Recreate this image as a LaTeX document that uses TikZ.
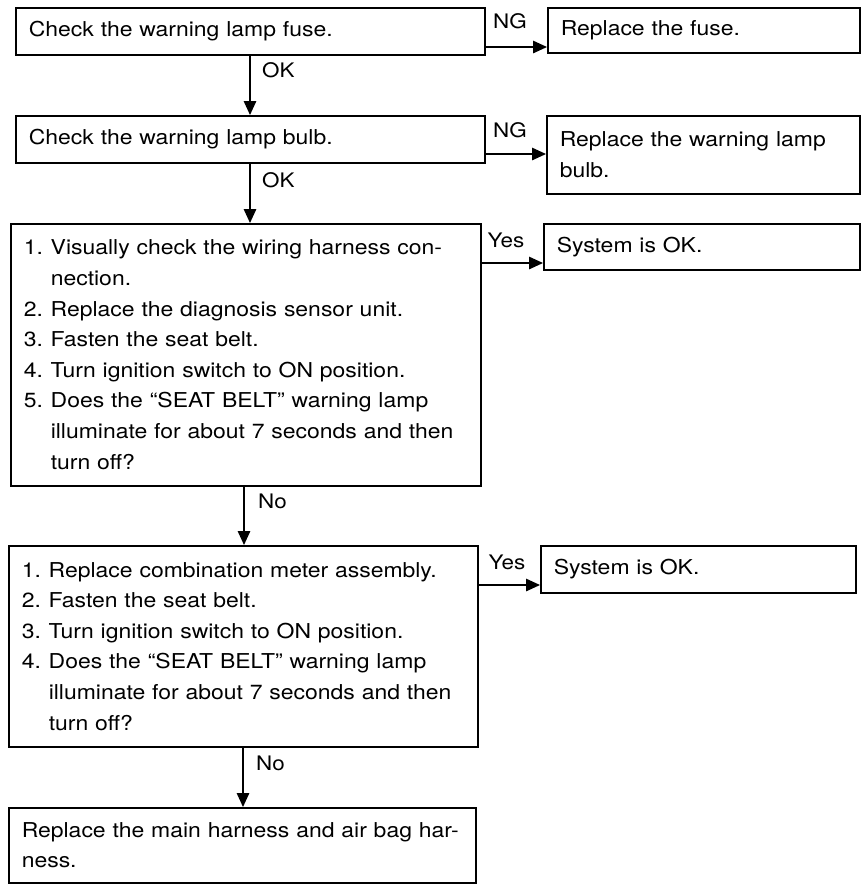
\documentclass[tikz,border=0pt]{standalone}
\usepackage{fontspec}
\setmainfont{TeX Gyre Heros}[FakeStretch=1.12]
\usetikzlibrary{arrows.meta}
\begin{document}
\begin{tikzpicture}[x=1pt,y=-1pt,
  box/.style={draw, line width=1.5pt, anchor=north west, inner xsep=13pt, inner ysep=0pt,
    align=left, font=\fontsize{20.5}{30.6}\selectfont},
  lbl/.style={font=\fontsize{20}{24}\selectfont, inner sep=0pt},
  arr/.style={line width=1.4pt, -{Triangle[length=14pt,width=12.5pt]}}]
\useasboundingbox (0,0) rectangle (862,884);

% left column
\node[box, minimum width=469pt, minimum height=47pt, text width=443pt] (B1) at (15,7)
  {Check the warning lamp fuse.};
\node[box, minimum width=469pt, minimum height=47pt, text width=443pt] (B2) at (15,115)
  {Check the warning lamp bulb.};
\node[box, minimum width=470pt, minimum height=262pt, text width=444pt] (B3) at (10,223)
  {\makebox[27pt][l]{1.}Visually check the wiring harness con-\\
   \hspace*{27pt}nection.\\
   \makebox[27pt][l]{2.}Replace the diagnosis sensor unit.\\
   \makebox[27pt][l]{3.}Fasten the seat belt.\\
   \makebox[27pt][l]{4.}Turn ignition switch to ON position.\\
   \makebox[27pt][l]{5.}Does the ``SEAT BELT'' warning lamp\\
   \hspace*{27pt}illuminate for about 7 seconds and then\\
   \hspace*{27pt}turn off?};
\node[box, minimum width=469pt, minimum height=201pt, text width=443pt] (B4) at (8,545)
  {\makebox[27pt][l]{1.}Replace combination meter assembly.\\
   \makebox[27pt][l]{2.}Fasten the seat belt.\\
   \makebox[27pt][l]{3.}Turn ignition switch to ON position.\\
   \makebox[27pt][l]{4.}Does the ``SEAT BELT'' warning lamp\\
   \hspace*{27pt}illuminate for about 7 seconds and then\\
   \hspace*{27pt}turn off?};
\node[box, minimum width=467pt, minimum height=75pt, text width=441pt] (B5) at (8,807)
  {Replace the main harness and air bag har-\\ness.};

% right column
\node[box, minimum width=312pt, minimum height=45pt, text width=286pt] (R1) at (547,7)
  {Replace the fuse.};
\node[box, minimum width=313pt, minimum height=78pt, text width=287pt] (R2) at (546,115)
  {Replace the warning lamp\\bulb.};
\node[box, minimum width=316pt, minimum height=46pt, text width=290pt] (R3) at (543,223)
  {System is OK.};
\node[box, minimum width=315pt, minimum height=47pt, text width=289pt] (R4) at (540,545)
  {System is OK.};

% helper coordinates
\coordinate (v1) at (250,0);
\coordinate (v3) at (244,0);
\coordinate (v4) at (243,0);
\coordinate (h1) at (0,47);
\coordinate (h2) at (0,154);
\coordinate (h3) at (0,263);
\coordinate (h4) at (0,585);

% connectors
\draw[arr] (B1.south -| v1) -- (B2.north -| v1);
\draw[arr] (B2.south -| v1) -- (B3.north -| v1);
\draw[arr] (B3.south -| v3) -- (B4.north -| v3);
\draw[arr] (B4.south -| v4) -- (B5.north -| v4);
\draw[arr] (B1.east |- h1) -- (R1.west |- h1);
\draw[arr] (B2.east |- h2) -- (R2.west |- h2);
\draw[arr] (B3.east |- h3) -- (R3.west |- h3);
\draw[arr] (B4.east |- h4) -- (R4.west |- h4);

% labels
\node[lbl, anchor=west] (ok1) at (262,70) {OK};
\node[lbl, anchor=west] (ok2) at (262,180) {OK};
\node[lbl, anchor=west] (no1) at (258,501) {No};
\node[lbl, anchor=west] (no2) at (256,763) {No};
\node[lbl] (ng1) at (510,21) {NG};
\node[lbl] (ng2) at (510,130) {NG};
\node[lbl] (yes1) at (506,240) {Yes};
\node[lbl] (yes2) at (507,562) {Yes};
\end{tikzpicture}
\end{document}
